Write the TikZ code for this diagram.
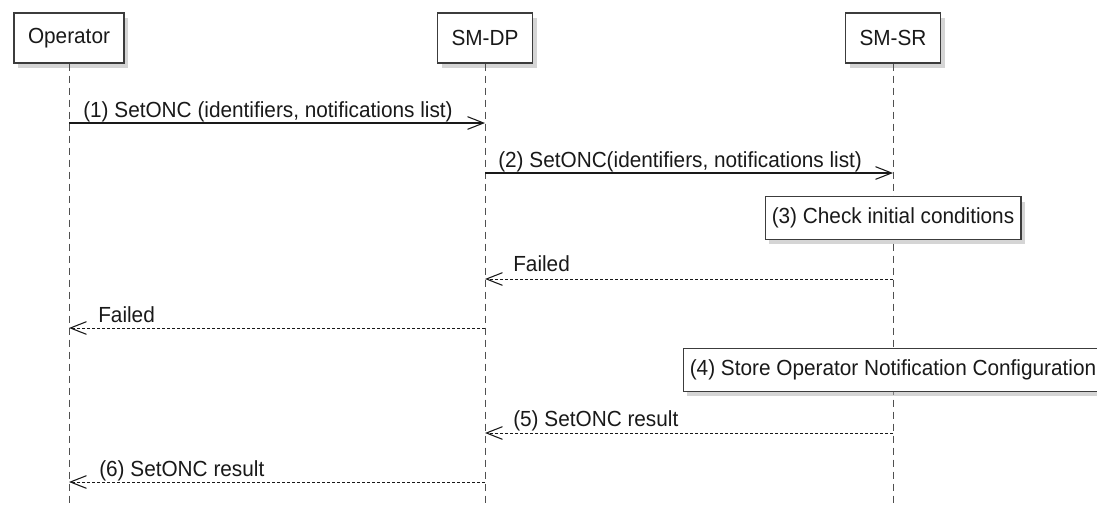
\documentclass[tikz,border=0pt]{standalone}
\usepackage{fontspec}
\setmainfont{Liberation Sans}[FakeStretch=0.95]
\usetikzlibrary{arrows.meta,shadows}
\definecolor{boxgray}{RGB}{60, 60, 60}
\definecolor{linegray}{RGB}{80, 80, 80}
\definecolor{textdark}{RGB}{25, 25, 25}

\begin{document}
\begin{tikzpicture}[x=0.75pt, y=-0.75pt, font=\fontsize{16.4pt}{19pt}\selectfont,
  actor/.style={draw=boxgray, line width=1.1pt, fill=white, text=textdark, inner xsep=10.5pt, minimum height=37.5pt,
    drop shadow={shadow xshift=3.2pt, shadow yshift=-3.8pt, fill=black!32}},
  notebox/.style={draw=boxgray, line width=0.9pt, fill=white, text=textdark, inner xsep=5pt, minimum height=32pt,
    drop shadow={shadow xshift=3.2pt, shadow yshift=-3.8pt, fill=black!32}},
  lifeline/.style={draw=linegray, line width=0.75pt, dash pattern=on 5.25pt off 3.75pt},
  msg/.style={draw=textdark, line width=1.1pt, -{Straight Barb[length=12pt, width=9.5pt, line width=0.8pt]}},
  reply/.style={draw=textdark, line width=0.75pt, dash pattern=on 2.25pt off 1.5pt, -{Straight Barb[length=12pt, width=9.5pt, line width=0.8pt]}},
  lbl/.style={anchor=base west, inner sep=0pt, text=textdark}]

  % Canvas: same size as the 1097 x 504 px reference
  \useasboundingbox (0,0) rectangle (1097,504);
  \fill[white] (0,0) rectangle (1097,504);
  \clip (0,0) rectangle (1097,504);

  % Participants (lifelines at x = 69, 485, 893)
  \node[actor] (op) at (69,38) {Operator};
  \node[actor] (dp) at (485,38) {SM-DP};
  \node[actor] (sr) at (893,38) {SM-SR};

  % Lifelines down to the bottom edge
  \coordinate (opend) at (69,504);
  \coordinate (dpend) at (485,504);
  \coordinate (srend) at (893,504);
  \draw[lifeline] (op.south) -- (opend);
  \draw[lifeline] (dp.south) -- (dpend);
  \draw[lifeline] (sr.south) -- (srend);

  % Notes over SM-SR
  \node[notebox] (check) at (893,218) {(3) Check initial conditions};
  \node[notebox] (store) at (893,370) {(4) Store Operator Notification Configuration};

  % Message end points on the lifelines
  \coordinate (op1) at (69,123);  \coordinate (dp1) at (485,123);
  \coordinate (dp2) at (485,173); \coordinate (sr2) at (893,173);
  \coordinate (sr3) at (893,279); \coordinate (dp3) at (485,279);
  \coordinate (dp4) at (485,328); \coordinate (op4) at (69,328);
  \coordinate (sr5) at (893,433); \coordinate (dp5) at (485,433);
  \coordinate (dp6) at (485,482); \coordinate (op6) at (69,482);

  % (1) Operator -> SM-DP
  \draw[msg] (op1) -- (dp1);
  \node[lbl] (m1) at (83,117) {(1) SetONC (identifiers, notifications list)};

  % (2) SM-DP -> SM-SR
  \draw[msg] (dp2) -- (sr2);
  \node[lbl] (m2) at (498,167) {(2) SetONC(identifiers, notifications list)};

  % Failed: SM-SR -> SM-DP -> Operator
  \draw[reply] (sr3) -- (dp3);
  \node[lbl] (m3) at (513,271) {Failed};
  \draw[reply] (dp4) -- (op4);
  \node[lbl] (m4) at (98,322) {Failed};

  % (5) and (6) results
  \draw[reply] (sr5) -- (dp5);
  \node[lbl] (m5) at (513,426) {(5) SetONC result};
  \draw[reply] (dp6) -- (op6);
  \node[lbl] (m6) at (99,476) {(6) SetONC result};
\end{tikzpicture}
\end{document}
